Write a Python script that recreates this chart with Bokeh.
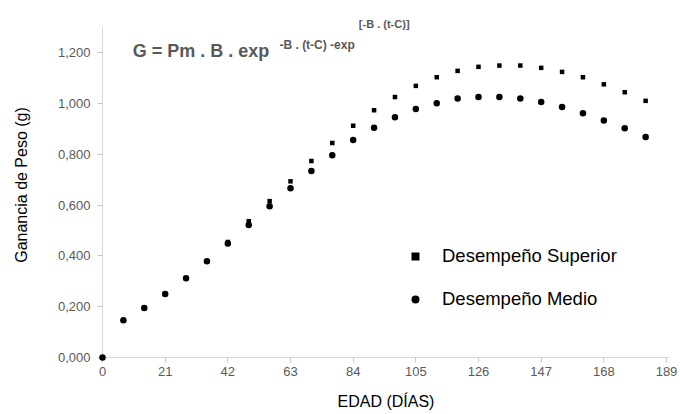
from bokeh.plotting import figure
from bokeh.models import (Range1d, FixedTicker, CustomJSTickFormatter, Label,
                          Legend, LegendItem, ColumnDataSource)
from bokeh.embed import file_html
from bokeh.resources import INLINE

# ---- data ----
dias = [0, 7, 14, 21, 28, 35, 42, 49, 56, 63, 70, 77, 84, 91, 98,
        105, 112, 119, 126, 133, 140, 147, 154, 161, 168, 175, 182]
superior = [0.000, 0.145, 0.195, 0.250, 0.312, 0.379, 0.455, 0.537, 0.616,
            0.694, 0.774, 0.845, 0.913, 0.974, 1.026, 1.070, 1.104, 1.129,
            1.145, 1.150, 1.150, 1.141, 1.125, 1.104, 1.076, 1.045, 1.011]
medio = [0.000, 0.147, 0.195, 0.250, 0.312, 0.379, 0.449, 0.522, 0.596,
         0.667, 0.735, 0.797, 0.857, 0.905, 0.946, 0.979, 1.002, 1.020,
         1.026, 1.026, 1.020, 1.006, 0.987, 0.962, 0.934, 0.903, 0.869]
x_ticks = [0, 21, 42, 63, 84, 105, 126, 147, 168, 189]
y_ticks = [0.0, 0.2, 0.4, 0.6, 0.8, 1.0, 1.2]
serie_nombres = ["Desempeño Superior", "Desempeño Medio"]

FONT = "Liberation Sans"
GRAY = "#595959"

src = ColumnDataSource(dict(dias=dias, superior=superior, medio=medio))

# the frame reaches a little above the y axis so the raised exponent fits
p = figure(width=680, height=414, output_backend="svg", toolbar_location=None,
           x_range=Range1d(0, 190), y_range=Range1d(0, 1.359),
           min_border_left=102, min_border_right=11,
           min_border_top=12, min_border_bottom=57)
p.outline_line_color = None
p.xgrid.visible = False
p.ygrid.visible = False
p.background_fill_color = "white"
p.border_fill_color = "white"

for ax in (p.xaxis[0], p.yaxis[0]):
    ax.axis_line_color = "#d9d9d9"
    ax.axis_line_width = 1
    ax.major_tick_line_color = "#c8c8c8"
    ax.major_tick_out = 5
    ax.major_tick_in = 0
    ax.minor_tick_line_color = None
    ax.major_label_text_font = FONT
    ax.major_label_text_font_size = "13px"
    ax.major_label_text_color = GRAY
    ax.axis_label_text_font = FONT
    ax.axis_label_text_font_style = "normal"
    ax.axis_label_text_color = "black"
    ax.axis_label_text_font_size = "16px"

p.yaxis.bounds = (0, 1.3)
p.xaxis.ticker = FixedTicker(ticks=x_ticks)
p.yaxis.ticker = FixedTicker(ticks=y_ticks)
p.yaxis.formatter = CustomJSTickFormatter(code="return tick.toFixed(3).replace('.', ',');")
p.xaxis.axis_label = "EDAD (DÍAS)"
p.yaxis.axis_label = "Ganancia de Peso (g)"
p.yaxis.major_label_standoff = 7
p.xaxis.major_label_standoff = 4
p.yaxis.axis_label_standoff = 25
p.xaxis.axis_label_standoff = 14

r_sup = p.scatter("dias", "superior", source=src, marker="square", size=4.5,
                  fill_color="black", line_color=None, level="overlay")
r_med = p.scatter("dias", "medio", source=src, marker="circle", size=6.5,
                  fill_color="black", line_color=None, level="overlay")

legend = Legend(items=[LegendItem(label=serie_nombres[0], renderers=[r_sup]),
                       LegendItem(label=serie_nombres[1], renderers=[r_med])],
                location=(303, 47), orientation="vertical",
                label_text_font=FONT, label_text_font_size="18.5px",
                label_text_color="black", glyph_width=20, glyph_height=20,
                label_height=20, label_standoff=17, spacing=21, padding=0,
                margin=0, border_line_alpha=0, background_fill_alpha=0)
p.add_layout(legend)

eq_main = Label(x=10.15, y=1.2066, text="G = Pm . B . exp", text_font=FONT,
                text_font_size="18px", text_font_style="bold", text_color=GRAY,
                text_baseline="alphabetic")
eq_sup = Label(x=59.3, y=1.232, text="-B . (t-C) -exp", text_font=FONT,
               text_font_size="12px", text_font_style="bold", text_color=GRAY,
               text_baseline="alphabetic")
eq_sup2 = Label(x=85.9, y=1.312, text="[-B . (t-C)]", text_font=FONT,
                text_font_size="11px", text_font_style="bold", text_color=GRAY,
                text_baseline="alphabetic")
for lab in (eq_main, eq_sup, eq_sup2):
    p.add_layout(lab)

open("out.html", "w").write(file_html(p, INLINE))
